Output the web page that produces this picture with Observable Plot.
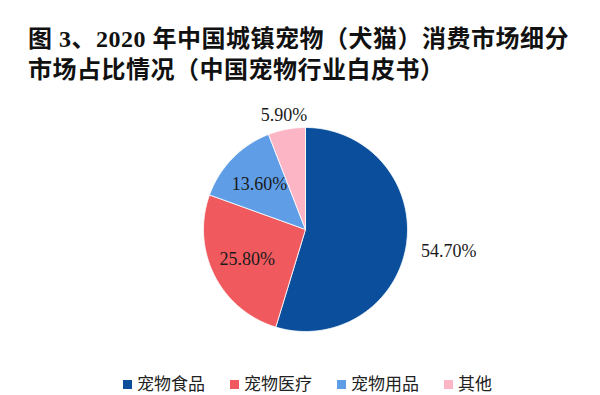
<!DOCTYPE html>
<html>
<head>
<meta charset="utf-8">
<script src="https://cdn.jsdelivr.net/npm/d3@7"></script>
<script src="https://cdn.jsdelivr.net/npm/@observablehq/plot@0.6"></script>
<style>
  html, body { margin: 0; padding: 0; background: #fff; width: 600px; height: 395px; overflow: hidden; }
  #title {
    position: absolute; left: 28px; top: 24px;
    font-family: "Liberation Serif", "Noto Sans CJK SC", serif;
    font-weight: bold; font-size: 24px; line-height: 31px; color: #111;
    letter-spacing: 0.5px; white-space: nowrap;
  }
  #chart { position: absolute; left: 0; top: 85px; }
  #legend {
    position: absolute; left: 123px; top: 372px;
    display: flex; align-items: center;
    font-family: "Noto Sans CJK SC", sans-serif; font-size: 17px; line-height: 21px; color: #222;
    white-space: nowrap;
  }
  #legend .item { display: flex; align-items: center; margin-right: 25px; }
  #legend .sw { width: 9px; height: 9px; margin-right: 5px; margin-top: 4px; }
</style>
</head>
<body>
<div id="title">图 3、2020 年中国城镇宠物（犬猫）消费市场细分<br>市场占比情况（中国宠物行业白皮书）</div>
<div id="chart"></div>
<div id="legend"></div>
<script>
const categories = ["宠物食品", "宠物医疗", "宠物用品", "其他"];
const shares = [54.7, 25.8, 13.6, 5.9];
const labels = ["54.70%", "25.80%", "13.60%", "5.90%"];
const colors = ["#0b4f9c", "#f05a5f", "#5f9ee6", "#fbb5c5"];
const labelRadius = [1.42, 0.64, 0.63, 1.14];

const W = 600, H = 290, cx = 305, cy = 144, r = 102;
const total = d3.sum(shares);

// build slice outlines (clockwise from 12 o'clock)
const slices = [];
const labelPts = [];
let acc = 0;
shares.forEach((v, i) => {
  const a0 = acc / total * 2 * Math.PI;
  acc += v;
  const a1 = acc / total * 2 * Math.PI;
  const n = Math.max(2, Math.ceil((a1 - a0) / (Math.PI / 180)));
  slices.push({cat: categories[i], x: 0, y: 0});
  for (let k = 0; k <= n; k++) {
    const a = a0 + (a1 - a0) * k / n;
    slices.push({cat: categories[i], x: Math.sin(a), y: Math.cos(a)});
  }
  slices.push({cat: categories[i], x: 0, y: 0});
  const am = (a0 + a1) / 2;
  labelPts.push({cat: categories[i], text: labels[i], x: labelRadius[i] * Math.sin(am), y: labelRadius[i] * Math.cos(am)});
});

const chart = Plot.plot({
  width: W, height: H,
  marginTop: 0, marginRight: 0, marginBottom: 0, marginLeft: 0,
  x: {domain: [-cx / r, (W - cx) / r], axis: null},
  y: {domain: [-(H - cy) / r, cy / r], axis: null},
  color: {domain: categories, range: colors},
  style: {background: "transparent"},
  marks: [
    Plot.line(slices, {x: "x", y: "y", z: "cat", fill: "cat", stroke: "#ffffff", strokeWidth: 0.8, curve: "linear"}),
    Plot.text(labelPts, {x: "x", y: "y", text: "text", fontSize: 18, fill: "#1a1a1a",
      fontFamily: "Liberation Serif, Times New Roman, serif"})
  ]
});
document.getElementById("chart").appendChild(chart);

const legend = document.getElementById("legend");
categories.forEach((c, i) => {
  const item = document.createElement("div");
  item.className = "item";
  const sw = document.createElement("div");
  sw.className = "sw";
  sw.style.background = colors[i];
  const t = document.createElement("span");
  t.textContent = c;
  item.appendChild(sw);
  item.appendChild(t);
  legend.appendChild(item);
});
</script>
</body>
</html>
